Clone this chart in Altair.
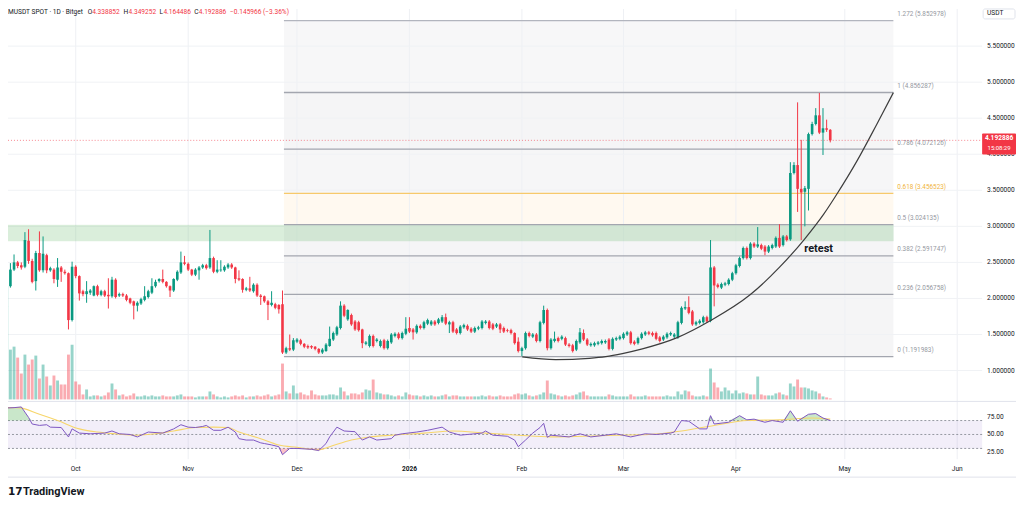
import altair as alt
import pandas as pd

# ---------------- data ----------------
# daily candles, day 0 = 2025-09-10
opens = [1.98,1.97,1.88,2.17,2.40,2.50,2.46,2.44,2.80,2.52,
         2.24,2.63,2.39,2.60,2.39,2.40,2.26,2.43,2.37,2.35,
         1.70,2.44,2.31,2.10,2.06,2.08,2.04,2.17,2.05,2.10,
         2.05,2.03,2.26,2.04,2.06,2.04,2.00,1.96,1.90,1.93,
         1.98,2.02,2.08,2.17,2.24,2.27,2.23,2.17,2.11,2.26,
         2.36,2.50,2.48,2.40,2.33,2.39,2.43,2.46,2.43,2.56,
         2.37,2.39,2.39,2.43,2.47,2.43,2.28,2.27,2.12,2.14,
         2.10,2.19,2.04,2.03,1.96,1.91,1.92,1.91,1.92,1.25,
         1.31,1.29,1.40,1.42,1.37,1.34,1.34,1.33,1.30,1.25,
         1.27,1.34,1.43,1.50,1.59,1.90,1.71,1.77,1.68,1.67,
         1.57,1.37,1.34,1.48,1.41,1.34,1.42,1.31,1.39,1.48,
         1.51,1.45,1.51,1.59,1.57,1.53,1.62,1.59,1.65,1.64,
         1.68,1.66,1.68,1.74,1.64,1.67,1.57,1.52,1.60,1.62,
         1.58,1.54,1.58,1.59,1.66,1.68,1.64,1.61,1.64,1.59,
         1.56,1.56,1.52,1.40,1.27,1.31,1.52,1.47,1.50,1.41,
         1.66,1.84,1.31,1.41,1.45,1.44,1.45,1.36,1.35,1.29,
         1.39,1.52,1.43,1.35,1.35,1.37,1.38,1.39,1.43,1.30,
         1.43,1.44,1.45,1.50,1.53,1.40,1.38,1.45,1.50,1.53,
         1.52,1.52,1.46,1.43,1.46,1.50,1.47,1.46,1.66,1.86,
         1.88,1.82,1.64,1.66,1.67,1.74,1.69,2.43,2.19,2.15,
         2.19,2.20,2.26,2.35,2.45,2.56,2.70,2.56,2.76,2.72,
         2.74,2.72,2.65,2.70,2.72,2.84,2.74,2.86,2.82,3.74,
         3.85,3.52,3.48,3.52,4.28,4.42,4.54,4.30,4.36,4.338852]
closes = [1.90,1.89,2.17,2.40,2.50,2.45,2.43,2.81,2.52,2.23,
          2.63,2.39,2.62,2.39,2.42,2.27,2.43,2.37,2.35,1.70,
          2.44,2.31,2.07,2.06,2.10,2.11,2.17,2.05,2.10,2.04,
          2.03,2.26,2.02,2.06,2.04,1.98,1.94,1.90,1.94,1.99,
          2.03,2.10,2.17,2.23,2.27,2.23,2.17,2.11,2.27,2.37,
          2.50,2.48,2.40,2.33,2.40,2.43,2.46,2.42,2.56,2.37,
          2.40,2.40,2.44,2.47,2.43,2.27,2.26,2.12,2.14,2.11,
          2.19,2.04,2.02,1.96,1.91,1.94,1.87,1.85,1.25,1.31,
          1.29,1.42,1.43,1.37,1.33,1.32,1.32,1.30,1.25,1.29,
          1.36,1.44,1.52,1.60,1.90,1.76,1.84,1.64,1.57,1.56,
          1.38,1.39,1.48,1.34,1.43,1.41,1.31,1.41,1.50,1.51,
          1.45,1.52,1.58,1.54,1.53,1.62,1.59,1.67,1.70,1.68,
          1.64,1.71,1.74,1.65,1.67,1.54,1.52,1.61,1.63,1.57,
          1.54,1.59,1.60,1.68,1.68,1.59,1.58,1.64,1.57,1.54,
          1.55,1.52,1.38,1.27,1.31,1.52,1.48,1.50,1.41,1.67,
          1.84,1.31,1.43,1.44,1.41,1.47,1.36,1.34,1.27,1.41,
          1.53,1.43,1.36,1.37,1.38,1.39,1.41,1.41,1.30,1.44,
          1.45,1.47,1.51,1.53,1.38,1.37,1.45,1.51,1.53,1.51,
          1.49,1.44,1.41,1.47,1.51,1.52,1.50,1.67,1.87,1.88,
          1.80,1.64,1.67,1.69,1.74,1.68,2.43,2.18,2.16,2.20,
          2.21,2.26,2.35,2.46,2.56,2.70,2.56,2.76,2.72,2.75,
          2.69,2.65,2.72,2.74,2.84,2.72,2.86,2.81,3.74,3.85,
          3.52,3.47,3.53,4.28,4.42,4.54,4.30,4.36,4.34,4.192886]
highs = [2.02,2.00,2.19,2.49,2.61,2.52,2.50,2.92,2.96,2.55,
         2.66,2.93,2.86,2.62,2.44,2.42,2.56,2.45,2.40,2.36,
         2.51,2.46,2.32,2.12,2.24,2.13,2.18,2.19,2.12,2.12,
         2.28,2.30,2.28,2.08,2.08,2.06,2.01,1.97,1.96,2.01,
         2.17,2.12,2.28,2.26,2.28,2.40,2.24,2.18,2.28,2.39,
         2.65,2.59,2.50,2.41,2.42,2.45,2.48,2.48,2.95,2.58,
         2.53,2.53,2.46,2.49,2.49,2.44,2.39,2.28,2.16,2.30,
         2.21,2.21,2.06,2.04,1.98,2.10,1.94,1.92,2.11,1.33,
         1.50,1.45,1.45,1.44,1.38,1.36,1.35,1.34,1.31,1.31,
         1.38,1.61,1.54,1.62,1.96,1.92,1.85,1.79,1.70,1.69,
         1.58,1.41,1.50,1.50,1.45,1.43,1.44,1.43,1.52,1.53,
         1.53,1.54,1.74,1.74,1.59,1.64,1.64,1.69,1.72,1.70,
         1.70,1.73,1.77,1.79,1.69,1.69,1.59,1.63,1.65,1.64,
         1.60,1.61,1.62,1.70,1.70,1.70,1.66,1.66,1.66,1.61,
         1.58,1.58,1.53,1.46,1.33,1.54,1.54,1.52,1.52,1.69,
         1.90,1.86,1.45,1.54,1.47,1.49,1.47,1.38,1.37,1.43,
         1.59,1.57,1.45,1.39,1.40,1.41,1.43,1.43,1.45,1.46,
         1.47,1.49,1.53,1.55,1.55,1.42,1.47,1.53,1.55,1.55,
         1.54,1.54,1.48,1.49,1.53,1.54,1.52,1.69,1.89,1.96,
         2.03,1.84,1.69,1.71,1.76,1.76,2.81,2.45,2.21,2.22,
         2.23,2.28,2.37,2.48,2.58,2.72,2.72,2.78,2.78,2.99,
         2.76,2.74,2.74,2.76,2.86,3.03,2.88,2.88,3.89,3.89,
         4.72,4.20,3.56,4.30,4.45,4.64,4.85,4.64,4.48,4.349252]
lows = [1.87,1.86,1.82,2.15,2.38,2.42,2.40,2.42,2.48,2.21,
        2.11,2.37,2.36,2.35,2.37,2.21,2.16,2.23,2.33,1.57,
        1.68,2.28,1.97,2.03,1.94,2.05,2.03,2.03,2.03,2.02,
        1.86,2.01,2.00,2.02,2.02,1.96,1.92,1.71,1.82,1.91,
        1.96,2.00,2.06,2.15,2.22,2.21,2.15,2.02,2.09,2.24,
        2.34,2.46,2.38,2.31,2.31,2.26,2.41,2.40,2.41,2.35,
        2.35,2.37,2.37,2.41,2.41,2.21,2.24,2.08,2.10,2.09,
        2.08,2.02,1.91,1.94,1.70,1.89,1.85,1.79,1.23,1.23,
        1.27,1.27,1.38,1.35,1.31,1.30,1.30,1.28,1.23,1.23,
        1.26,1.33,1.41,1.48,1.57,1.74,1.69,1.62,1.55,1.54,
        1.31,1.35,1.32,1.32,1.39,1.32,1.29,1.29,1.37,1.46,
        1.43,1.43,1.49,1.52,1.43,1.51,1.57,1.57,1.63,1.62,
        1.62,1.64,1.66,1.63,1.52,1.52,1.50,1.50,1.58,1.55,
        1.52,1.52,1.56,1.57,1.64,1.57,1.56,1.59,1.52,1.52,
        1.53,1.50,1.36,1.25,1.20,1.29,1.46,1.45,1.39,1.39,
        1.64,1.28,1.29,1.39,1.39,1.42,1.34,1.32,1.25,1.27,
        1.37,1.41,1.34,1.33,1.33,1.35,1.36,1.37,1.28,1.28,
        1.41,1.42,1.43,1.48,1.36,1.35,1.36,1.43,1.48,1.49,
        1.47,1.42,1.39,1.41,1.44,1.48,1.45,1.44,1.64,1.84,
        1.78,1.62,1.62,1.64,1.65,1.66,1.67,1.89,2.14,2.13,
        2.17,2.18,2.24,2.33,2.43,2.54,2.54,2.54,2.70,2.70,
        2.67,2.60,2.63,2.68,2.70,2.70,2.72,2.79,2.80,3.72,
        3.20,2.81,3.00,3.22,4.26,4.40,4.28,3.99,4.31,4.164486]
# volume (million USDT, estimated)
volumes = [4.3,3.2,9.3,5.0,5.3,4.2,2.6,4.5,3.5,4.0,
           4.4,2.1,3.5,2.3,1.4,2.4,1.9,1.5,1.5,4.5,
           5.5,1.8,1.5,0.5,1.0,0.3,0.4,0.4,0.3,0.4,
           0.7,1.6,1.0,0.4,0.5,0.3,0.4,0.6,0.3,0.3,
           0.4,0.3,0.4,0.3,0.3,0.4,0.3,0.3,0.3,0.4,
           0.5,0.3,0.3,0.3,0.2,0.3,0.3,0.3,0.8,0.5,
           0.3,0.2,0.3,0.2,0.3,0.4,0.3,0.4,0.2,0.3,
           0.3,0.4,0.3,0.4,0.5,0.3,0.4,0.5,3.6,0.8,
           0.6,1.4,0.6,0.7,0.5,0.4,0.9,0.5,0.4,0.4,
           0.4,0.5,0.5,0.4,1.2,0.8,0.4,0.6,0.6,0.5,
           0.7,1.0,0.9,2.0,0.7,0.6,0.5,0.5,0.4,0.3,
           0.4,0.3,0.7,0.5,0.4,0.4,0.3,0.4,0.3,0.4,
           0.3,0.3,0.4,0.5,0.3,0.4,0.4,0.3,0.3,0.3,
           0.3,0.3,0.3,0.4,0.3,0.4,0.3,0.3,0.4,0.3,
           0.3,0.3,0.5,0.6,0.5,0.6,0.4,0.3,0.4,0.5,
           0.7,1.9,0.6,0.5,0.4,0.3,0.4,0.3,0.4,0.5,
           0.7,0.8,0.4,0.3,0.3,0.3,0.3,0.3,0.5,0.4,
           0.3,0.3,0.3,0.3,0.5,0.3,0.3,0.3,0.4,0.3,
           0.3,0.3,0.3,0.3,0.4,0.3,0.3,0.8,0.5,0.9,
           0.8,0.4,0.3,0.3,0.4,0.3,3.1,1.7,1.2,0.8,
           1.2,0.9,0.6,0.9,0.6,0.7,0.6,0.5,0.5,2.3,
           0.5,0.4,0.4,0.4,0.6,0.7,0.5,0.4,1.6,1.3,
           2.0,1.2,1.2,1.1,0.9,0.8,0.6,0.3,0.2,0.1]
# RSI(14) read at points along its path: (day, value)
rsi_days = [0,4,6,8,9,11,13,14,17,19,20,22,25,29,31,33,36,38,41,45,48,50,52,54,56,57,
            59,61,63,65,66,68,70,72,73,75,77,78,80,82,86,88,90,91,93,95,98,100,102,104,
            108,109,111,115,118,122,124,125,127,129,133,134,136,140,142,143,145,147,149,150,
            151,152,154,157,160,163,167,170,174,178,181,185,186,188,190,193,195,196,197,201,
            204,206,208,211,213,216,218,220,223,225,227,229]
rsi_vals = [87.6,88.5,89.5,74.5,65,63,64,60.5,60,46.5,58,52,51,52,55,51,50,46.5,53.5,52,58,64,60.5,60,61.5,63,
            56,56,60.5,53.5,44,42,42,38,37,35,32.5,21,30,30,28.7,27,37,46.5,60.5,55,54,42,46.5,42,
            44,49,51,53.5,56,60.5,53.5,52,49,50,52,55,49,47.5,42,32.5,42,52,60,66,
            46,49,48,46.5,51,46.5,49,51,46.5,51,50,52,53.5,70,69,58,58,77,65,67.5,
            77,71,72,67.5,70,67.5,84,69,79,80,73.6,70]
ma_days = [0,5,11,16,22,27,32,38,43,48,54,59,63,66,72,77,82,88,91,97,102,108,117,125,134,143,
           152,161,170,179,188,197,206,215,224,229]
ma_vals = [88.5,88.5,79,70,58,53.5,51,49,51,55,60,60.5,60,53.5,44,35,31.6,28,32.5,42,46.5,49,52,55,52,49,
           46.5,47.5,49,50,55,63,70,71,73.6,72]

# Fibonacci retracement (levels as labelled on the chart)
fib_ratio = ["1.272", "1", "0.786", "0.618", "0.5", "0.382", "0.236", "0"]
fib_price = [5.852978, 4.856287, 4.072126, 3.456523, 3.024135, 2.591747, 2.056758, 1.191983]
fib_start_day, fib_end_day = 78.4, 246.4
zone_lo, zone_hi = 2.796, 3.017            # green zone
zone_start_day = 2.06
# hand-drawn curve (day, price)
curve_days = [144.1, 153.3, 162.6, 167.1, 171.7, 177.2, 186.8, 195.9, 206.9, 215.1, 221.7, 227.2, 230.8, 236.3, 241.8, 246.4]
curve_prices = [1.189, 1.152, 1.170, 1.193, 1.235, 1.30, 1.456, 1.69, 2.05, 2.437, 2.81, 3.169, 3.445, 3.901, 4.413, 4.855]
last_price = 4.192886
price_ticks = [1.0, 1.5, 2.0, 2.5, 3.0, 3.5, 4.0, 4.5, 5.0, 5.5]
month_days = [21, 52, 82, 113, 144, 172, 203, 233, 264]
month_labels = ["Oct", "Nov", "Dec", "2026", "Feb", "Mar", "Apr", "May", "Jun"]
rsi_ticks = [75, 50, 25]

# ---------------- styling / scales ----------------
FONT = "Roboto"
GREEN, RED = "#089981", "#f23645"
TXT = "#131722"
W, H = 1012, 491
PX_DAY = 3.642
D0 = 8.5 / PX_DAY
xs = alt.Scale(domain=[D0, D0 + W / PX_DAY], nice=False, zero=False)
PPX = 72.38
ps = alt.Scale(domain=[1 - (H - 363) / PPX, 1 + 363 / PPX], nice=False, zero=False)
vs = alt.Scale(domain=[-(H - 392) / 10.0, 392 / 10.0], nice=False, zero=False)
rs = alt.Scale(domain=[50 - (H - 427.2) / 0.70, 50 + 427.2 / 0.70], nice=False, zero=False)
PANE_R = 978

def X(f):
    return alt.X(f, type="quantitative", scale=xs, axis=None)

def Yp(f):
    return alt.Y(f, type="quantitative", scale=ps, axis=None)

def Yr(f):
    return alt.Y(f, type="quantitative", scale=rs, axis=None)

dir_color = alt.Color("dir:N", scale=alt.Scale(domain=["up", "down"], range=[GREEN, RED]), legend=None)

candles = pd.DataFrame({"day": list(range(len(opens))), "o": opens, "h": highs,
                        "l": lows, "c": closes, "v": volumes})
base = alt.Chart(candles).transform_calculate(
    dir="datum.c >= datum.o ? 'up' : 'down'",
    x0="datum.day - 0.36", x1="datum.day + 0.36",
    vx0="datum.day - 0.4", vx1="datum.day + 0.4", z="0")

layers = []

# fib background bands
band_df = pd.DataFrame({
    "hi": fib_price[:-1], "lo": fib_price[1:],
    "fill": ["#f7f7f8", "#f5f5f6", "#f6f6f7", "#fff9f0", "#f5f5f6", "#f4f4f5", "#f5f5f6"],
    "a": [fib_start_day] * 7, "b": [fib_end_day] * 7})
layers.append(alt.Chart(band_df).mark_rect().encode(
    x=X("a"), x2="b", y=Yp("lo"), y2="hi", color=alt.Color("fill:N", scale=None)))

# grid
layers.append(alt.Chart(pd.DataFrame({"d": month_days})).mark_rule(color="#eef0f4", strokeWidth=1).encode(
    x=X("d"), y=alt.value(0), y2=alt.value(452)))
layers.append(alt.Chart(pd.DataFrame({"p": price_ticks})).mark_rule(color="#f0f2f5", strokeWidth=1).encode(
    y=Yp("p"), x=alt.value(0), x2=alt.value(PANE_R)))

# green zone
layers.append(alt.Chart(pd.DataFrame({"lo": [zone_lo], "hi": [zone_hi], "a": [zone_start_day], "b": [fib_end_day]}))
              .mark_rect(color="#4caf50", opacity=0.2, stroke="#4caf50", strokeOpacity=0.5, strokeWidth=0.8)
              .encode(x=X("a"), x2="b", y=Yp("lo"), y2="hi"))

# fib lines + labels
fib_df = pd.DataFrame({"p": fib_price, "a": [fib_start_day] * 8, "b": [fib_end_day] * 8,
                       "col": ["#b2b5be", "#a3a6af", "#a3a6af", "#f7c96b", "#a3a6af", "#a3a6af", "#a3a6af", "#a3a6af"],
                       "lab": [f"{r} ({p:.6f})" for r, p in zip(fib_ratio, fib_price)],
                       "tcol": ["#9598a1"] * 3 + ["#f0b33c"] + ["#9598a1"] * 4,
                       "lx": [247.5] * 8})
layers.append(alt.Chart(fib_df).mark_rule(strokeWidth=1.3).encode(
    x=X("a"), x2="b", y=Yp("p"), color=alt.Color("col:N", scale=None)))
layers.append(alt.Chart(fib_df).mark_text(align="left", baseline="middle", dy=-6.5, fontSize=6.4, font=FONT).encode(
    x=X("lx"), y=Yp("p"), text="lab:N", color=alt.Color("tcol:N", scale=None)))

# volume
layers.append(base.mark_rect(opacity=0.42).encode(
    x=X("vx0:Q"), x2="vx1:Q", y=alt.Y("z:Q", scale=vs, axis=None), y2="v:Q", color=dir_color))

# candles
layers.append(base.mark_rule(strokeWidth=1).encode(x=X("day"), y=Yp("l"), y2="h", color=dir_color))
layers.append(base.mark_rect().encode(x=X("x0:Q"), x2="x1:Q", y=Yp("o"), y2="c", color=dir_color))

# curve
layers.append(alt.Chart(pd.DataFrame({"d": curve_days, "p": curve_prices}))
              .mark_line(color="#3d3d3d", strokeWidth=1.2, interpolate="monotone").encode(x=X("d"), y=Yp("p")))
layers.append(alt.Chart(pd.DataFrame({"d": [225.8], "p": [2.681], "t": ["retest"]}))
              .mark_text(fontSize=11, fontWeight="bold", font=FONT, color=TXT, align="center", baseline="middle")
              .encode(x=X("d"), y=Yp("p"), text="t:N"))

# last price dotted line
layers.append(alt.Chart(pd.DataFrame({"p": [last_price]})).mark_rule(color=RED, strokeDash=[1, 2], strokeWidth=1, opacity=0.6)
              .encode(y=Yp("p"), x=alt.value(0), x2=alt.value(PANE_R)))

# pane separators
layers.append(alt.Chart(pd.DataFrame({"k": [0]})).mark_rule(color="#e0e3eb", strokeWidth=1).encode(
    x=alt.value(0), x2=alt.value(W), y=alt.value(394)))
layers.append(alt.Chart(pd.DataFrame({"k": [0]})).mark_rule(color="#e0e3eb", strokeWidth=1).encode(
    x=alt.value(0), x2=alt.value(W), y=alt.value(470)))

# RSI pane
rsi_band = pd.DataFrame({"a": [70], "b": [30]})
layers.append(alt.Chart(rsi_band).mark_rect(color="#7e57c2", opacity=0.1).encode(
    x=alt.value(0), x2=alt.value(PANE_R), y=Yr("a"), y2="b"))
layers.append(alt.Chart(pd.DataFrame({"r": [70, 50, 30]})).mark_rule(color="#9598a1", strokeDash=[2, 2], strokeWidth=1).encode(
    x=alt.value(0), x2=alt.value(PANE_R), y=Yr("r")))
rsi_df = pd.DataFrame({"d": rsi_days, "r": rsi_vals})
layers.append(alt.Chart(rsi_df).transform_calculate(top="max(datum.r, 70)", b="70")
              .mark_area(color="#4caf50", opacity=0.3).encode(x=X("d"), y=Yr("top:Q"), y2="b:Q"))
layers.append(alt.Chart(rsi_df).transform_calculate(bot="min(datum.r, 30)", b="30")
              .mark_area(color="#f23645", opacity=0.3).encode(x=X("d"), y=Yr("bot:Q"), y2="b:Q"))
layers.append(alt.Chart(pd.DataFrame({"d": ma_days, "r": ma_vals}))
              .mark_line(color="#f7d66a", strokeWidth=1.1, interpolate="monotone").encode(x=X("d"), y=Yr("r")))
layers.append(alt.Chart(rsi_df).mark_line(color="#7e57c2", strokeWidth=1).encode(x=X("d"), y=Yr("r")))

# axes labels
layers.append(alt.Chart(pd.DataFrame({"p": price_ticks, "t": [f"{p:.6f}" for p in price_ticks]}))
              .mark_text(align="left", baseline="middle", fontSize=6.6, font=FONT, color=TXT)
              .encode(x=alt.value(983), y=Yp("p"), text="t:N"))
layers.append(alt.Chart(pd.DataFrame({"r": rsi_ticks, "t": [f"{r:.2f}" for r in rsi_ticks]}))
              .mark_text(align="left", baseline="middle", fontSize=6.6, font=FONT, color=TXT)
              .encode(x=alt.value(983), y=Yr("r"), text="t:N"))
md = pd.DataFrame({"d": month_days, "t": month_labels, "w": ["normal"] * 3 + ["bold"] + ["normal"] * 5})
layers.append(alt.Chart(md[md.w == "normal"]).mark_text(align="center", baseline="middle", fontSize=6.6, font=FONT, color=TXT)
              .encode(x=X("d"), y=alt.value(462), text="t:N"))
layers.append(alt.Chart(md[md.w == "bold"]).mark_text(align="center", baseline="middle", fontSize=6.6, font=FONT, color=TXT, fontWeight="bold")
              .encode(x=X("d"), y=alt.value(462), text="t:N"))

# last price tag
layers.append(alt.Chart(pd.DataFrame({"k": [0]})).mark_rect(color=RED, cornerRadius=1).encode(
    x=alt.value(978), x2=alt.value(1012), y=alt.value(125), y2=alt.value(146)))
layers.append(alt.Chart(pd.DataFrame({"t": [f"{last_price:.6f}"]})).mark_text(
    align="center", baseline="middle", fontSize=6.6, font=FONT, color="white", fontWeight="bold").encode(
    x=alt.value(995), y=alt.value(130), text="t:N"))
layers.append(alt.Chart(pd.DataFrame({"t": ["15:08:29"]})).mark_text(
    align="center", baseline="middle", fontSize=6.0, font=FONT, color="white").encode(
    x=alt.value(995), y=alt.value(139.5), text="t:N"))

# USDT box
layers.append(alt.Chart(pd.DataFrame({"k": [0]})).mark_rect(fill="white", stroke="#e0e3eb", cornerRadius=2).encode(
    x=alt.value(979), x2=alt.value(1011), y=alt.value(0), y2=alt.value(10)))
layers.append(alt.Chart(pd.DataFrame({"t": ["USDT"]})).mark_text(
    align="left", baseline="middle", fontSize=6.6, font=FONT, color=TXT).encode(
    x=alt.value(983), y=alt.value(4), text="t:N"))

# header
header = [("MUSDT SPOT · 1D · Bitget", 0, TXT), ("O", 80, TXT), ("4.338852", 84.5, RED),
          ("H", 116, TXT), ("4.349252", 121, RED), ("L", 152, TXT), ("4.164486", 156, RED),
          ("C", 187, TXT), ("4.192886", 191.5, RED), ("−0.145966 (−3.36%)", 223, RED)]
for t, x, col in header:
    layers.append(alt.Chart(pd.DataFrame({"t": [t]})).mark_text(
        align="left", baseline="top", fontSize=6.6, font=FONT, color=col).encode(
        x=alt.value(x), y=alt.value(0), text="t:N"))

# TradingView mark
layers.append(alt.Chart(pd.DataFrame({"t": ["17"]})).mark_text(
    align="left", baseline="middle", fontSize=10.5, font="DejaVu Sans", fontWeight="bold", color=TXT).encode(
    x=alt.value(0), y=alt.value(485), text="t:N"))
layers.append(alt.Chart(pd.DataFrame({"t": ["TradingView"]})).mark_text(
    align="left", baseline="middle", fontSize=11, font=FONT, fontWeight="bold", color=TXT).encode(
    x=alt.value(15), y=alt.value(485), text="t:N"))

chart = alt.layer(*layers).resolve_scale(y="independent").properties(
    width=W, height=H, padding=0, autosize=alt.AutoSizeParams(type="none"), background="white"
).configure_view(stroke=None)

chart.save("out.html", embed_options={"renderer": "svg", "actions": False})
